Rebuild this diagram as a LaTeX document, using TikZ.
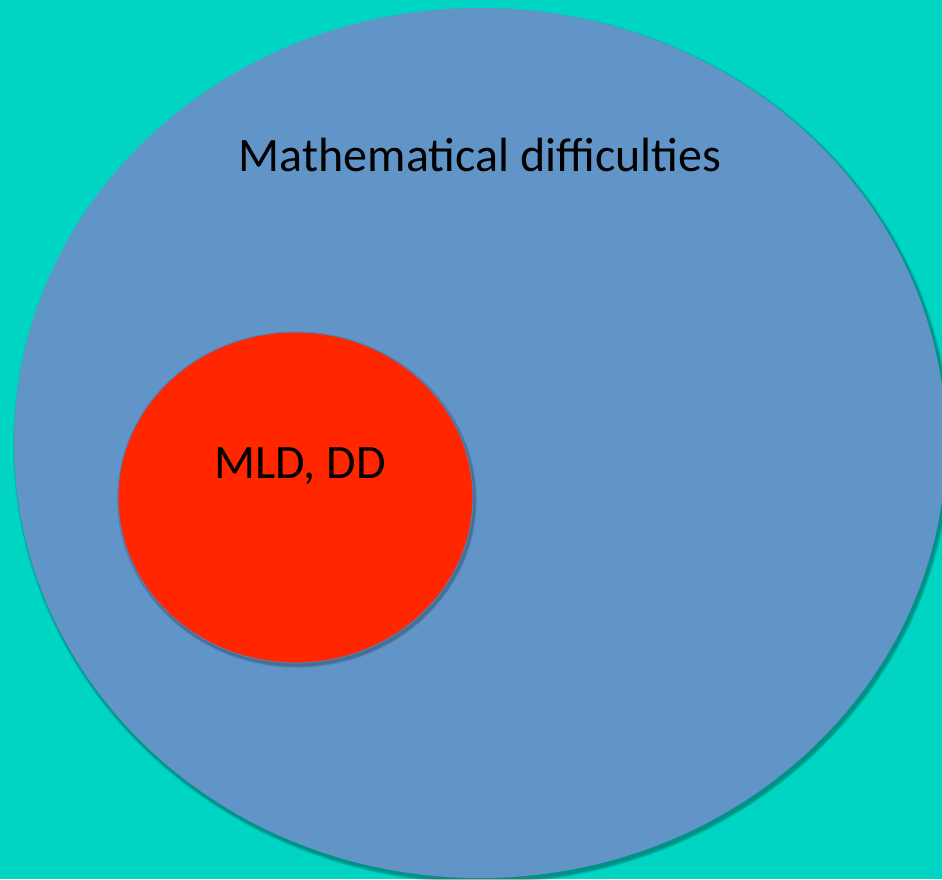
\documentclass[tikz,border=0pt]{standalone}
\usepackage{fontspec}
\setmainfont{Carlito}
\definecolor{bgteal}{HTML}{00D5C4}
\definecolor{bigblue}{HTML}{6195C8}
\definecolor{redfill}{HTML}{FF2600}
\definecolor{edgeblue}{HTML}{4F81BD}
\begin{document}
\begin{tikzpicture}[x=1pt,y=-1pt,
  shadowlayer/.style={fill=black,fill opacity=0.07,draw=none},
  label/.style={font=\fontsize{48}{56}\selectfont,text=black}]
\useasboundingbox (0,0) rectangle (942,879);
\fill[bgteal] (0,0) rectangle (942,879);
% big ellipse shadow
\foreach \d in {1,2,3,4,5}
  \fill[shadowlayer] (482,446) ellipse [x radius={466+\d*0.6}, y radius={435+\d*0.6}];
\fill[bigblue] (480,443) ellipse [x radius=466, y radius=435];
\node[label] (title) at (480,155) {Mathematical difficulties};
% red ellipse shadow
\foreach \d in {1,2,3,4}
  \fill[shadowlayer] (297,500) ellipse [x radius={177.5+\d*0.6}, y radius={165.5+\d*0.6}];
\fill[redfill,draw=edgeblue,line width=1pt] (295.5,497.5) ellipse [x radius=177.5, y radius=165.5];
\node[label] (mld) at (300,466) {MLD, DD};
\end{tikzpicture}
\end{document}
